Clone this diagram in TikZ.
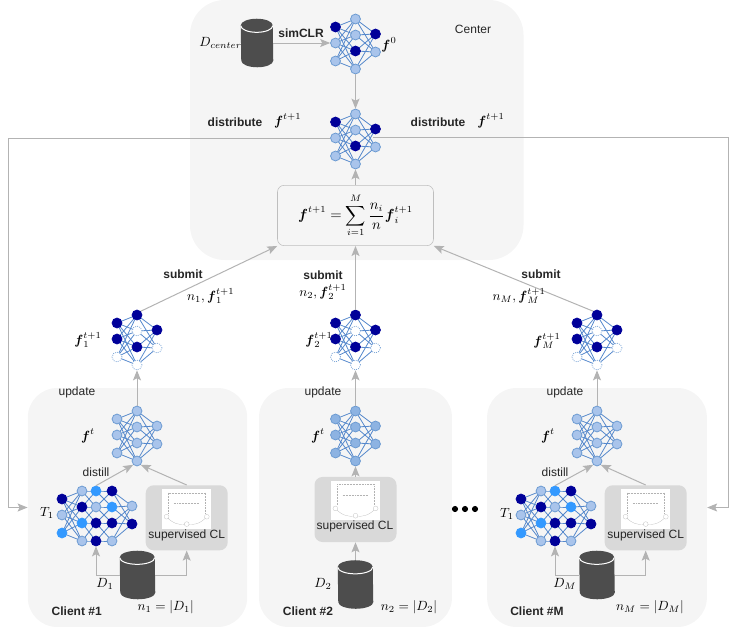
\documentclass[tikz,border=0pt]{standalone}
\usepackage{amsmath}
\usepackage{amssymb}
\usepackage{fontspec}
\setmainfont{Liberation Sans}
\usetikzlibrary{arrows.meta,positioning}

\definecolor{panelgray}{HTML}{F5F5F5}
\definecolor{clgray}{HTML}{D9D9D9}
\definecolor{linegray}{HTML}{B3B3B3}
\definecolor{dbgray}{HTML}{4D4D4D}
\definecolor{edgeblue}{HTML}{5588CC}
\definecolor{nodeline}{HTML}{6C9BD2}
\definecolor{lightblue}{HTML}{A9C4EB}
\definecolor{midblue}{HTML}{8DB3E2}
\definecolor{brightblue}{HTML}{3399FF}
\definecolor{darkblue}{HTML}{000099}

\pgfdeclarelayer{panels}
\pgfdeclarelayer{edges}
\pgfsetlayers{panels,edges,main}

\tikzset{
    neuron/.style={circle, draw=nodeline, line width=0.6pt, inner sep=0pt, minimum size=7.4pt},
    nl/.style={neuron, fill=lightblue},
    nm/.style={neuron, fill=midblue},
    nb/.style={neuron, fill=brightblue, draw=brightblue},
    nd/.style={neuron, fill=darkblue, draw=darkblue},
    ne/.style={neuron, fill=white, densely dotted},
    synapse/.style={draw=edgeblue, line width=0.6pt},
    panel/.style={rectangle, fill=panelgray, rounded corners=22pt, inner sep=0pt},
    clbox/.style={rectangle, fill=clgray, rounded corners=6pt, inner sep=0pt, minimum width=61.5pt, minimum height=48.8pt},
    sumbox/.style={rectangle, draw=linegray!85!white, fill=panelgray, rounded corners=5pt, inner sep=0pt, minimum width=117pt, minimum height=45.3pt},
    dbnode/.style={rectangle, inner sep=0pt},
    line/.style={draw=linegray, line width=0.75pt, -{Stealth[length=7.5pt,width=6pt,inset=1.5pt]}},
    wire/.style={draw=linegray, line width=0.75pt},
    lab/.style={font=\fontsize{9}{11}\selectfont, inner sep=0pt, text=black!85},
    blab/.style={lab, font=\fontsize{9}{11}\selectfont\bfseries},
    mlab/.style={font=\fontsize{10}{12}\selectfont, inner sep=0pt}
}

% small net: name, x, y of top middle neuron, styles per column
\newcommand{\smallnet}[6]{
    \begin{scope}[shift={(#2,#3)}]
        \foreach \st [count=\i] in {#4} {
            \pgfmathsetmacro{\yy}{{8,24,42}[\i-1]}
            \node [\st] (#1-a\i) at (-20,\yy) {};
        }
        \foreach \st [count=\i] in {#5} {
            \pgfmathsetmacro{\yy}{{0,16,32,50}[\i-1]}
            \node [\st] (#1-b\i) at (0,\yy) {};
        }
        \foreach \st [count=\i] in {#6} {
            \pgfmathsetmacro{\yy}{{15,33}[\i-1]}
            \node [\st] (#1-c\i) at (20,\yy) {};
        }
    \end{scope}
    \begin{pgfonlayer}{edges}
        \foreach \i in {1,2,3} \foreach \j in {1,2,3,4} \draw [synapse] (#1-a\i.center) -- (#1-b\j.center);
        \foreach \j in {1,2,3,4} \foreach \k in {1,2} \draw [synapse] (#1-b\j.center) -- (#1-c\k.center);
    \end{pgfonlayer}
}

% teacher net: name, x of first column, styles per column
\newcommand{\teachernet}[6]{
    \begin{scope}[shift={(#2,0)}]
        \foreach \st [count=\i] in {#3} {
            \pgfmathsetmacro{\yy}{{499,515,533}[\i-1]}
            \node [\st] (#1-a\i) at (0,\yy) {};
        }
        \foreach \st [count=\i] in {#4} {
            \pgfmathsetmacro{\yy}{{491,507,523,541}[\i-1]}
            \node [\st] (#1-b\i) at (20,\yy) {};
        }
        \foreach \st [count=\i] in {#5} {
            \pgfmathsetmacro{\yy}{{491,507,523,541}[\i-1]}
            \node [\st] (#1-c\i) at (34,\yy) {};
        }
        \foreach \st [count=\i] in {#6} {
            \pgfmathsetmacro{\yy}{{491,507,523,541}[\i-1]}
            \node [\st] (#1-d\i) at (50,\yy) {};
        }
        \node [nl] (#1-e1) at (70,506) {};
        \node [nd] (#1-e2) at (70,524) {};
    \end{scope}
    \begin{pgfonlayer}{edges}
        \foreach \i in {1,2,3} \foreach \j in {1,2,3,4} \draw [synapse] (#1-a\i.center) -- (#1-b\j.center);
        \foreach \j in {1,2,3,4} {
            \draw [synapse] (#1-b\j.center) -- (#1-c\j.center) -- (#1-d\j.center);
            \foreach \k in {1,2} \draw [synapse] (#1-d\j.center) -- (#1-e\k.center);
        }
        \foreach \j/\k in {1/2,2/3,3/4,2/1,3/2,4/3} {
            \draw [synapse] (#1-b\j.center) -- (#1-c\k.center);
            \draw [synapse] (#1-c\j.center) -- (#1-d\k.center);
        }
    \end{pgfonlayer}
}

% data cylinder: name, centre, width, height
\newcommand{\datacyl}[5]{
    \node [dbnode, minimum width=#4*0.75pt, minimum height=#5*0.75pt] (#1) at (#2,#3) {};
    \fill [dbgray] ([yshift=-5pt]#1.north west) arc [x radius=#4*0.375pt, y radius=5pt, start angle=180, end angle=0]
        -- ([yshift=5pt]#1.south east) arc [x radius=#4*0.375pt, y radius=5pt, start angle=360, end angle=180] -- cycle;
    \draw [white, line width=0.75pt] ([yshift=-5.2pt]#1.north west) arc [x radius=#4*0.375pt, y radius=5pt, start angle=180, end angle=360];
}

% supervised CL thumbnail: name of box, distance above its bottom
\newcommand{\clthumb}[2]{
    \node [rectangle, fill=white, inner sep=0pt, minimum width=36.8pt, minimum height=29.8pt, above=#2pt of #1.south] (#1-img) {};
    \begin{scope}[black!30, line width=0.15pt]
        \draw [densely dotted] ([xshift=5pt,yshift=-3pt]#1-img.north west) -- ([xshift=-5pt,yshift=-3pt]#1-img.north east);
        \draw [densely dotted] ([xshift=9pt,yshift=-11pt]#1-img.north west) -- ([xshift=-9pt,yshift=-11pt]#1-img.north east);
        \draw [densely dotted] ([xshift=5pt,yshift=-3pt]#1-img.north west) -- ([xshift=5pt,yshift=-18pt]#1-img.north west);
        \draw [densely dotted] ([xshift=-5pt,yshift=-3pt]#1-img.north east) -- ([xshift=-5pt,yshift=-18pt]#1-img.north east);
        \draw ([xshift=3.5pt,yshift=-21pt]#1-img.north west) .. controls ([xshift=9pt,yshift=-27pt]#1-img.north west) and ([yshift=-27pt,xshift=-5pt]#1-img.north) .. ([yshift=-27pt]#1-img.north) .. controls ([yshift=-27pt,xshift=5pt]#1-img.north) and ([xshift=-9pt,yshift=-27pt]#1-img.north east) .. ([xshift=-3.5pt,yshift=-21pt]#1-img.north east);
        \filldraw [fill=white] ([xshift=3.5pt,yshift=-21pt]#1-img.north west) circle (1.8pt) ([xshift=-3.5pt,yshift=-21pt]#1-img.north east) circle (1.8pt) ([yshift=-26.5pt]#1-img.north) circle (1.8pt);
    \end{scope}
}

\begin{document}
\begin{tikzpicture}[x=0.75pt, y=-0.75pt]
    \useasboundingbox (0,0) rectangle (736,628);

    % panels
    \begin{pgfonlayer}{panels}
        \fill [panelgray, rounded corners=26pt] (190,0) rectangle (523.5,260);
        \node [panel, minimum width=164.5pt, minimum height=179.2pt] (clientA) at (137.5,507.5) {};
        \node [panel, minimum width=144.7pt, minimum height=179.2pt] (clientB) at (355.5,507.5) {};
        \node [panel, minimum width=164.8pt, minimum height=179.2pt] (clientM) at (597,507.5) {};
    \end{pgfonlayer}

    % center
    \datacyl{dbcenter}{257}{43}{32}{48}
    \smallnet{fzero}{355.5}{19}{nd,nl,nl}{nl,nl,nd,nl}{nd,nl}
    \smallnet{fnext}{355.5}{114}{nd,nl,nl}{nl,nl,nd,nl}{nd,nl}
    \node [sumbox] (fedavg) at (355.5,215.5) {\fontsize{10.5}{12}\selectfont $\boldsymbol{f}^{t+1}=\displaystyle\sum_{i=1}^{M}\frac{n_i}{n}\boldsymbol{f}_i^{t+1}$};
    \coordinate (railleft) at (8,138);
    \coordinate (railright) at (728,137);
    \coordinate (distout) at (373,137);

    % submitted nets
    \smallnet{subA}{137}{315}{nd,nd,ne}{nd,ne,nd,ne}{nd,ne}
    \smallnet{subB}{355.5}{315}{nd,nd,ne}{nd,ne,nd,ne}{nd,ne}
    \smallnet{subM}{597}{315}{nd,nd,ne}{nd,ne,nd,ne}{nd,ne}

    % local nets
    \smallnet{locA}{137}{411}{nl,nl,nl}{nl,nl,nl,nl}{nl,nl}
    \smallnet{locB}{355.5}{411}{nm,nm,nm}{nm,nm,nm,nm}{nm,nm}
    \smallnet{locM}{597}{411}{nl,nl,nl}{nl,nl,nl,nl}{nl,nl}

    % teachers
    \teachernet{teaA}{62}{nd,nl,nb}{nl,nd,nb,nl}{nb,nl,nd,nd}{nd,nb,nd,nl}
    \teachernet{teaM}{521}{nd,nl,nb}{nl,nd,nb,nl}{nb,nl,nd,nd}{nd,nb,nd,nl}

    % supervised CL
    \node [clbox] (clA) at (186.7,517.8) {};
    \node [clbox] (clB) at (355.5,509.5) {};
    \node [clbox] (clM) at (645.7,517.8) {};
    \clthumb{clA}{16.2}
    \clthumb{clB}{16.2}
    \clthumb{clM}{16.2}

    % data
    \datacyl{dbA}{137.5}{575}{35}{48}
    \datacyl{dbB}{355.5}{584.5}{35}{48}
    \datacyl{dbM}{597}{575}{35}{48}

    % connectors
    \path [line] (dbcenter.east) -- (fzero-a2.west);
    \path [line] (fzero-b4.south) -- (fnext-b1.north);
    \path [line] (fedavg.north) -- (fnext-b4.south);
    \path [wire] (fnext-a2.west) -- (railleft);
    \path [line] (railleft) |- (clientA.west);
    \path [wire] (distout) -- (railright);
    \path [line] (railright) |- (clientM.east);
    \path [line] (subA-b1.north east) -- (fedavg.south west);
    \path [line] (subB-b1.north) -- (fedavg.south);
    \path [line] (subM-b1.north west) -- (fedavg.south east);
    \path [line] (locA-b1.north) -- (subA-b4.south);
    \path [line] (locB-b1.north) -- (subB-b4.south);
    \path [line] (locM-b1.north) -- (subM-b4.south);
    \path [line] (teaA-c1.north) -- (locA-b4.south west);
    \path [line] (clA.north) -- (locA-b4.south east);
    \path [line] (teaM-c1.north) -- (locM-b4.south west);
    \path [line] (clM.north) -- (locM-b4.south east);
    \path [line] (clB.north) -- (locB-b4.south);
    \path [line] (dbA.west) -| (teaA-c4.south);
    \path [line] (dbA.east) -| (clA.south);
    \path [line] (dbM.west) -| (teaM-c4.south);
    \path [line] (dbM.east) -| (clM.south);
    \path [line] (dbB.north) -- (clB.south);

    % labels
    \node [mlab] (lbdc) at (220.5,43) {$D_{center}$};
    \node [blab] (lbsim) at (301,33) {simCLR};
    \node [mlab] (lbfz) at (389,45) {$\boldsymbol{f}^0$};
    \node [lab] (lbcenter) at (473,29.7) {Center};
    \node [blab] (lbdl) at (235,122) {distribute};
    \node [mlab] (lbfl) at (287.7,121) {$\boldsymbol{f}^{t+1}$};
    \node [blab] (lbdr) at (438,122) {distribute};
    \node [mlab] (lbfr) at (491,121) {$\boldsymbol{f}^{t+1}$};

    \node [blab] (lbsa) at (183,274.7) {submit};
    \node [blab] (lbsb) at (323,275) {submit};
    \node [blab] (lbsm) at (541,274.7) {submit};
    \node [mlab] (lbna) at (210.7,296) {$n_1,\boldsymbol{f}_1^{t+1}$};
    \node [mlab] (lbnb) at (323,292) {$n_2,\boldsymbol{f}_2^{t+1}$};
    \node [mlab] (lbnm) at (519,296) {$n_M,\boldsymbol{f}_M^{t+1}$};
    \node [mlab] (lbfa) at (88,340) {$\boldsymbol{f}_1^{t+1}$};
    \node [mlab] (lbfb) at (319,340) {$\boldsymbol{f}_2^{t+1}$};
    \node [mlab] (lbfm) at (547,341) {$\boldsymbol{f}_M^{t+1}$};

    \node [lab] (lbua) at (77,392) {update};
    \node [lab] (lbub) at (323,392) {update};
    \node [lab] (lbum) at (565,392) {update};
    \node [mlab] (lbta) at (88,436) {$\boldsymbol{f}^t$};
    \node [mlab] (lbtb) at (318,436) {$\boldsymbol{f}^t$};
    \node [mlab] (lbtm) at (548,436) {$\boldsymbol{f}^t$};
    \node [lab] (lbda) at (96,472) {distill};
    \node [lab] (lbdm) at (555,472) {distill};
    \node [mlab] (lbka) at (47,513) {$T_1$};
    \node [mlab] (lbkm) at (507,514) {$T_1$};

    \node [lab] (lbca) at (186.7,535) {supervised CL};
    \node [lab] (lbcb) at (355,526.7) {supervised CL};
    \node [lab] (lbcm) at (645.7,535) {supervised CL};
    \node [mlab] (lbxa) at (105,584) {$D_1$};
    \node [mlab] (lbxb) at (323,584) {$D_2$};
    \node [mlab] (lbxm) at (564.7,584) {$D_M$};
    \node [mlab] (lbsza) at (165.7,606.7) {$n_1=|D_1|$};
    \node [mlab] (lbszb) at (409,606.7) {$n_2=|D_2|$};
    \node [mlab] (lbszm) at (650,606.7) {$n_M=|D_M|$};
    \node [blab] (lbea) at (76.7,611) {Client \#1};
    \node [blab] (lbeb) at (308,611) {Client \#2};
    \node [blab] (lbem) at (537,611.7) {Client \#M};

    % dots between clients
    \foreach \dx in {455,465,475} \fill [black] (\dx,509) circle (2.3pt);
\end{tikzpicture}
\end{document}
